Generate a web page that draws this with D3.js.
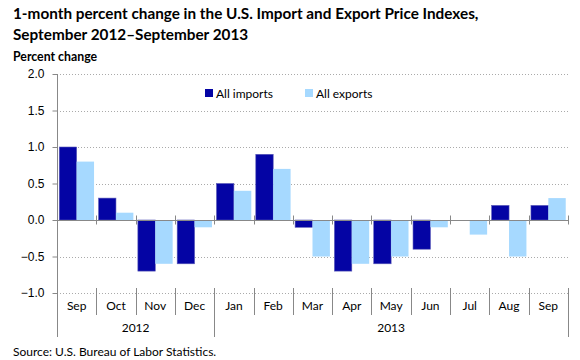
<!DOCTYPE html>
<html>
<head>
<meta charset="utf-8">
<script src="https://cdn.jsdelivr.net/npm/d3@7"></script>
<style>
  body { margin: 0; background: #fff; }
  svg { font-family: "Lato", "Open Sans", sans-serif; }
</style>
</head>
<body>
<div id="chart"></div>
<script>
const months = ["Sep", "Oct", "Nov", "Dec", "Jan", "Feb", "Mar", "Apr", "May", "Jun", "Jul", "Aug", "Sep"];
const years = [{label: "2012", from: 0, to: 4}, {label: "2013", from: 4, to: 13}];
const imports = [1.0, 0.3, -0.7, -0.6, 0.5, 0.9, -0.1, -0.7, -0.6, -0.4, 0.0, 0.2, 0.2];
const exports_ = [0.8, 0.1, -0.6, -0.1, 0.4, 0.7, -0.5, -0.6, -0.5, -0.1, -0.2, -0.5, 0.3];
const yTicks = [2.0, 1.5, 1.0, 0.5, 0.0, -0.5, -1.0];

const width = 580, height = 360;
const plot = {left: 57, right: 568, top: 74, bottom: 293};

const svg = d3.select("#chart").append("svg")
    .attr("width", width)
    .attr("height", height);

const x = d3.scaleBand()
    .domain(d3.range(months.length))
    .range([plot.left, plot.right]);

const x1 = d3.scaleBand()
    .domain(["imp", "exp"])
    .range([0, x.bandwidth()])
    .paddingOuter(0.13)
    .paddingInner(0);

const y = d3.scaleLinear()
    .domain([-1, 2])
    .range([plot.bottom, plot.top]);

// gridlines
svg.append("g")
    .selectAll("line")
    .data(yTicks.filter(d => d !== 0))
    .enter()
    .append("line")
    .attr("x1", plot.left).attr("x2", plot.right)
    .attr("y1", d => Math.round(y(d)) + 0.5).attr("y2", d => Math.round(y(d)) + 0.5)
    .style("stroke", "#aaa")
    .style("stroke-dasharray", "1,2");

// y axis
const yAxis = svg.append("g")
    .attr("transform", `translate(${plot.left + 0.5},0)`)
    .call(d3.axisLeft(y).tickValues(yTicks).tickFormat(d3.format(".1f")).tickSize(5).tickPadding(8));
yAxis.select(".domain").remove();
yAxis.selectAll("line").style("stroke", "#888");
yAxis.selectAll("text").style("font-size", "12px").style("fill", "#000");

svg.append("line")
    .attr("x1", plot.left + 0.5).attr("x2", plot.left + 0.5)
    .attr("y1", plot.top).attr("y2", 337)
    .style("stroke", "#888");

// bars
const bars = svg.append("g");
bars.selectAll(".imp")
    .data(imports)
    .enter()
    .append("rect")
    .attr("x", (d, i) => x(i) + x1("imp"))
    .attr("width", x1.bandwidth())
    .attr("y", d => y(Math.max(0, d)))
    .attr("height", d => Math.abs(y(d) - y(0)))
    .style("fill", "#0404a4")
    .style("stroke", "#5a5ab8")
    .style("stroke-width", 0.6);

bars.selectAll(".exp")
    .data(exports_)
    .enter()
    .append("rect")
    .attr("x", (d, i) => x(i) + x1("exp"))
    .attr("width", x1.bandwidth())
    .attr("y", d => y(Math.max(0, d)))
    .attr("height", d => Math.abs(y(d) - y(0)))
    .style("fill", "#a6d9ff");

// zero line
const y0 = Math.round(y(0)) + 0.5;
svg.append("line")
    .attr("x1", plot.left).attr("x2", plot.right)
    .attr("y1", y0).attr("y2", y0)
    .style("stroke", "#888");

// category ticks on zero line
const bounds = d3.range(months.length + 1).map(i => i < months.length ? x(i) : plot.right);
svg.append("g")
    .selectAll("line")
    .data(bounds.slice(1))
    .enter()
    .append("line")
    .attr("x1", d => Math.round(d) + 0.5).attr("x2", d => Math.round(d) + 0.5)
    .attr("y1", y0 - 5).attr("y2", y0 + 4)
    .style("stroke", "#888");

// category separators at bottom
svg.append("g")
    .selectAll("line")
    .data(bounds.slice(1))
    .enter()
    .append("line")
    .attr("x1", d => Math.round(d) + 0.5).attr("x2", d => Math.round(d) + 0.5)
    .attr("y1", 288)
    .attr("y2", (d, i) => (i + 1 === 4 || i + 1 === months.length) ? 337 : 315)
    .style("stroke", "#888");

// month labels
svg.append("g")
    .selectAll("text")
    .data(months)
    .enter()
    .append("text")
    .attr("x", (d, i) => x(i) + x.bandwidth() / 2)
    .attr("y", 310)
    .attr("text-anchor", "middle")
    .style("font-size", "12px")
    .text(d => d);

// year labels
svg.append("g")
    .selectAll("text")
    .data(years)
    .enter()
    .append("text")
    .attr("x", d => (x(d.from) + (d.to < months.length ? x(d.to) : plot.right)) / 2)
    .attr("y", 332)
    .attr("text-anchor", "middle")
    .style("font-size", "12px")
    .text(d => d.label);

// legend
const legend = [{label: "All imports", color: "#0404a4", x: 205}, {label: "All exports", color: "#a6d9ff", x: 305}];
const lg = svg.append("g").selectAll("g").data(legend).enter().append("g");
lg.append("rect")
    .attr("x", d => d.x).attr("y", 89)
    .attr("width", 8).attr("height", 8)
    .style("fill", d => d.color);
lg.append("text")
    .attr("x", d => d.x + 11).attr("y", 97.5)
    .style("font-size", "12px")
    .text(d => d.label);

// titles
svg.append("text")
    .attr("x", 13).attr("y", 19)
    .style("font-size", "15.3px").style("font-weight", "bold")
    .text("1-month percent change in the U.S. Import and Export Price Indexes,");
svg.append("text")
    .attr("x", 13).attr("y", 40)
    .style("font-size", "15.3px").style("font-weight", "bold")
    .text("September 2012\u2013September 2013");
svg.append("text")
    .attr("x", 13).attr("y", 61)
    .style("font-size", "12.3px").style("font-weight", "bold")
    .text("Percent change");
svg.append("text")
    .attr("x", 13).attr("y", 356)
    .style("font-size", "12px")
    .text("Source: U.S. Bureau of Labor Statistics.");
</script>
</body>
</html>
